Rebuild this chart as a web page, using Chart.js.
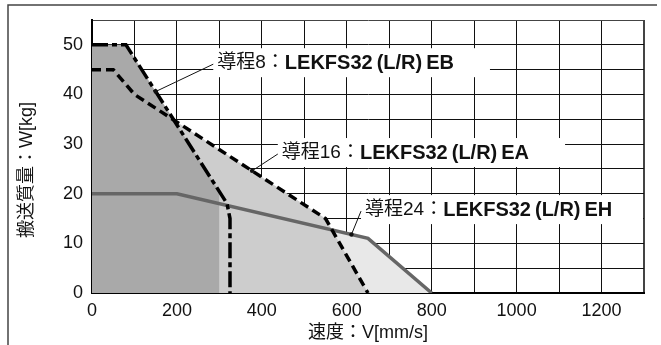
<!DOCTYPE html>
<html>
<head>
<meta charset="utf-8">
<script src="https://cdn.jsdelivr.net/npm/chart.js@4/dist/chart.umd.min.js"></script>
<style>
  html, body { margin: 0; padding: 0; background: #fff; }
  #wrap { width: 661px; height: 345px; }
</style>
</head>
<body>
<div id="wrap"><canvas id="grafico" width="661" height="345"></canvas></div>
<script>
// 導程8: LEKFS32(L/R)EB
const ebX = [0, 80, 318, 325, 325];
const ebY = [50, 50, 18, 15, 0];
// zona gris oscuro (bajo EB hasta 300 mm/s)
const sombraX = [0, 80, 300, 300];
const sombraY = [50, 50, 20.4, 0];
// 導程16: LEKFS32(L/R)EA
const eaX = [0, 50, 100, 550, 650];
const eaY = [45, 45, 40, 15, 0];
// 導程24: LEKFS32(L/R)EH
const ehX = [0, 200, 650, 800];
const ehY = [20, 20, 11, 0];

// etiquetas de ejes
const xEtiquetas = [0, 200, 400, 600, 800, 1000, 1200];
const yEtiquetas = [0, 10, 20, 30, 40, 50];
const tituloX = '速度：V[mm/s]';
const tituloY = '搬送質量：W[kg]';

// textos de las anotaciones
const notaNombre = ['導程8：', '導程16：', '導程24：'];
const notaModelo = ['LEKFS32\u2009(L/R)\u2009EB', 'LEKFS32\u2009(L/R)\u2009EA', 'LEKFS32\u2009(L/R)\u2009EH'];
const notaPuntoX = [150, 377, 611];

const FUENTE = "'Liberation Sans', 'Noto Sans CJK JP', sans-serif";
Chart.defaults.font.family = FUENTE;
Chart.defaults.color = '#111';

const puntos = (xs, ys) => xs.map((x, i) => ({ x, y: ys[i] }));

// interpola y sobre una curva para anclar la flecha
function yEnCurva(xs, ys, x) {
  for (let i = 1; i < xs.length; i++) {
    if (x <= xs[i]) {
      const t = (x - xs[i - 1]) / ((xs[i] - xs[i - 1]) || 1);
      return ys[i - 1] + t * (ys[i] - ys[i - 1]);
    }
  }
  return ys[ys.length - 1];
}

// posición de cada nota (borde izquierdo del texto, centro vertical) en unidades de datos
const notas = [
  { tx: 295, ty: 46.3, curva: [ebX, ebY] },
  { tx: 447, ty: 28.2, curva: [eaX, eaY] },
  { tx: 643, ty: 16.7, curva: [ehX, ehY] }
];

const pluginNotas = {
  id: 'notas',
  afterDatasetsDraw(chart) {
    const { ctx, scales: { x, y } } = chart;
    ctx.save();
    notas.forEach((n, i) => {
      const left = x.getPixelForValue(n.tx);
      const cy = y.getPixelForValue(n.ty);
      ctx.font = `19px ${FUENTE}`;
      const w1 = ctx.measureText(notaNombre[i]).width;
      ctx.font = `bold 20px ${FUENTE}`;
      const w2 = ctx.measureText(notaModelo[i]).width;
      const right = Math.min(left + w1 + w2 + 36, chart.chartArea.right - 1);
      ctx.fillStyle = '#fff';
      ctx.fillRect(left - 4, cy - 15, right - left + 4, 29);

      ctx.textBaseline = 'middle';
      ctx.fillStyle = '#111';
      ctx.font = `19px ${FUENTE}`;
      ctx.fillText(notaNombre[i], left, cy);
      ctx.font = `bold 20px ${FUENTE}`;
      ctx.fillText(notaModelo[i], left + w1, cy);

      // línea guía y punto
      const px = x.getPixelForValue(notaPuntoX[i]);
      const py = y.getPixelForValue(yEnCurva(n.curva[0], n.curva[1], notaPuntoX[i]));
      ctx.strokeStyle = '#111';
      ctx.lineWidth = 1;
      ctx.beginPath();
      ctx.moveTo(px, py);
      ctx.lineTo(left - 4, cy + 1);
      ctx.stroke();
      ctx.beginPath();
      ctx.arc(px, py, 2.2, 0, Math.PI * 2);
      ctx.fill();
    });
    ctx.restore();
  },
  afterDraw(chart) {
    const { ctx } = chart;
    ctx.save();
    // marco exterior (arriba e izquierda)
    ctx.strokeStyle = '#444';
    ctx.lineWidth = 1.5;
    ctx.beginPath();
    ctx.moveTo(8, 345);
    ctx.lineTo(8, 5);
    ctx.lineTo(657, 5);
    ctx.stroke();
    // título eje Y
    ctx.translate(27, 170);
    ctx.rotate(-Math.PI / 2);
    ctx.font = `18px ${FUENTE}`;
    ctx.fillStyle = '#111';
    ctx.textAlign = 'center';
    ctx.textBaseline = 'middle';
    ctx.fillText(tituloY, 0, 0);
    ctx.restore();
  }
};

new Chart(document.getElementById('grafico'), {
  type: 'line',
  data: {
    datasets: [
      {
        label: 'EB',
        data: puntos(ebX, ebY),
        borderColor: '#000',
        borderWidth: 3.5,
        borderDash: [16, 4, 5, 4],
        borderCapStyle: 'butt',
        pointRadius: 0,
        fill: false,
        tension: 0
      },
      {
        label: 'sombra',
        data: puntos(sombraX, sombraY),
        borderWidth: 0,
        borderColor: 'rgba(0,0,0,0)',
        backgroundColor: '#a9a9a9',
        pointRadius: 0,
        fill: 'origin'
      },
      {
        label: 'EA',
        data: puntos(eaX, eaY),
        borderColor: '#000',
        borderWidth: 3.5,
        borderDash: [9, 5],
        borderCapStyle: 'butt',
        backgroundColor: '#cdcdcd',
        pointRadius: 0,
        fill: 'origin'
      },
      {
        label: 'EH',
        data: puntos(ehX, ehY),
        borderColor: '#666',
        borderWidth: 3.5,
        backgroundColor: '#e8e8e8',
        pointRadius: 0,
        fill: 'origin'
      }
    ]
  },
  options: {
    responsive: false,
    animation: false,
    layout: { padding: { left: 0, top: 20, right: 17, bottom: 0 } },
    plugins: {
      legend: { display: false },
      tooltip: { enabled: false },
      filler: { drawTime: 'beforeDatasetsDraw' }
    },
    scales: {
      x: {
        type: 'linear',
        min: 0,
        max: 1300,
        afterFit(s) { s.height = 52; },
        ticks: {
          stepSize: 100,
          autoSkip: false,
          maxRotation: 0,
          padding: 7,
          font: { size: 18 },
          color: '#111',
          callback: v => xEtiquetas.includes(v) ? String(v) : ''
        },
        grid: {
          drawTicks: false,
          color: c => c.tick && c.tick.value === 1300 ? '#444' : '#111',
          lineWidth: c => c.tick && c.tick.value === 1300 ? 2 : 1
        },
        border: { color: '#000', width: 2 },
        title: { display: true, text: tituloX, font: { size: 18 }, color: '#111', padding: { top: 0, bottom: 1 } }
      },
      y: {
        min: 0,
        max: 55,
        afterFit(s) { s.width = 92; },
        ticks: {
          stepSize: 5,
          autoSkip: false,
          padding: 9,
          font: { size: 18 },
          color: '#111',
          callback: v => yEtiquetas.includes(v) ? String(v) : ''
        },
        grid: {
          drawTicks: false,
          color: c => c.tick && c.tick.value === 55 ? '#444' : '#111',
          lineWidth: 1
        },
        border: { color: '#000', width: 2 }
      }
    }
  },
  plugins: [pluginNotas]
});
</script>
</body>
</html>
